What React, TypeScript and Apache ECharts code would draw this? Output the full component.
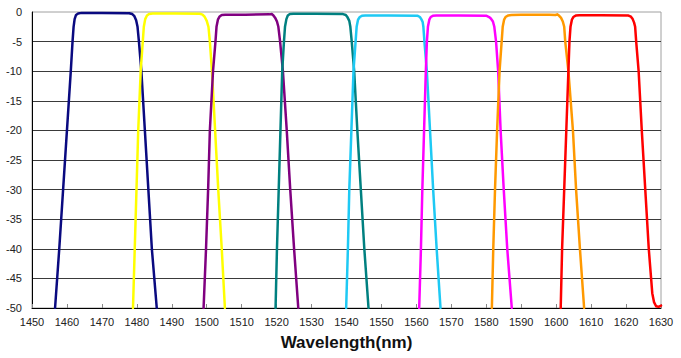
import React, { useEffect, useRef } from "react";
import * as echarts from "echarts";

// Wavelength ticks (nm) and attenuation ticks (dB)
const xTicks = { min: 1450, max: 1630, step: 10 };
const yTicks = { min: -50, max: 0, step: 5 };

const channelNames = ["1471", "1491", "1511", "1531", "1551", "1571", "1591", "1611"];
const channelColors = ["#0a0a80", "#ffff00", "#800080", "#008080", "#1ec9f4", "#ff00ff", "#ff9900", "#ff0000"];

// [wavelength nm, dB]
const ch1471: [number, number][] = [
  [1456.6, -50], [1457.8, -40], [1458.9, -30], [1460.0, -20], [1461.1, -10], [1461.6, -5],
  [1461.9, -2.5], [1462.2, -1.2], [1462.6, -0.5], [1463.2, -0.25], [1464.2, -0.15], [1470.0, -0.15],
  [1477.8, -0.2], [1478.7, -0.35], [1479.3, -0.7], [1479.8, -1.4], [1480.2, -2.5], [1480.6, -5],
  [1481.3, -10], [1482.3, -20], [1483.3, -30], [1484.3, -40], [1485.7, -50],
];
const ch1491: [number, number][] = [
  [1478.9, -50], [1479.4, -40], [1479.9, -30], [1480.4, -20], [1481.1, -10], [1481.7, -5],
  [1482.0, -2.5], [1482.4, -1.2], [1482.9, -0.6], [1483.5, -0.35], [1484.5, -0.25], [1491.0, -0.25],
  [1498.0, -0.3], [1498.8, -0.45], [1499.4, -0.8], [1500.0, -1.5], [1500.5, -2.5], [1500.9, -5],
  [1501.5, -10], [1502.4, -20], [1503.3, -30], [1504.3, -40], [1505.2, -50],
];
const ch1511: [number, number][] = [
  [1499.1, -50], [1499.8, -40], [1500.4, -30], [1500.9, -20], [1501.8, -10], [1502.5, -5],
  [1502.8, -2.5], [1503.2, -1.3], [1503.7, -0.75], [1504.3, -0.5], [1505.3, -0.45], [1511.0, -0.45],
  [1518.0, -0.4], [1518.6, -0.35], [1519.1, -0.6], [1519.6, -1.0], [1520.1, -1.6], [1520.5, -2.5],
  [1521.0, -5], [1521.8, -10], [1522.9, -20], [1523.9, -30], [1525.0, -40], [1526.2, -50],
];
const ch1531: [number, number][] = [
  [1519.7, -50], [1520.1, -40], [1520.6, -30], [1521.1, -20], [1521.6, -10], [1522.1, -5],
  [1522.4, -2.5], [1522.8, -1.2], [1523.2, -0.6], [1523.8, -0.35], [1524.8, -0.3], [1531.0, -0.3],
  [1539.0, -0.35], [1539.8, -0.5], [1540.3, -0.9], [1540.8, -1.5], [1541.1, -2.5], [1541.5, -5],
  [1542.2, -10], [1543.1, -20], [1544.1, -30], [1545.1, -40], [1546.3, -50],
];
const ch1551: [number, number][] = [
  [1539.9, -50], [1540.4, -40], [1540.8, -30], [1541.4, -20], [1542.0, -10], [1542.6, -5],
  [1542.9, -2.5], [1543.3, -1.3], [1543.8, -0.85], [1544.4, -0.65], [1545.4, -0.6], [1552.0, -0.6],
  [1560.4, -0.65], [1561.0, -0.85], [1561.4, -1.2], [1561.8, -1.7], [1562.0, -2.5], [1562.3, -5],
  [1563.0, -10], [1563.9, -20], [1564.8, -30], [1565.8, -40], [1566.9, -50],
];
const ch1571: [number, number][] = [
  [1560.8, -50], [1561.3, -40], [1561.7, -30], [1562.2, -20], [1562.7, -10], [1563.0, -5],
  [1563.3, -2.5], [1563.7, -1.3], [1564.1, -0.85], [1564.7, -0.65], [1565.7, -0.6], [1572.0, -0.6],
  [1580.1, -0.65], [1580.8, -0.85], [1581.3, -1.1], [1581.9, -1.6], [1582.3, -2.5], [1582.8, -5],
  [1583.4, -10], [1584.1, -20], [1585.0, -30], [1586.0, -40], [1587.3, -50],
];
const ch1591: [number, number][] = [
  [1581.6, -50], [1582.0, -40], [1582.5, -30], [1583.1, -20], [1583.8, -10], [1584.4, -5],
  [1584.7, -2.5], [1585.1, -1.3], [1585.6, -0.8], [1586.2, -0.6], [1587.2, -0.5], [1590.0, -0.45],
  [1598.0, -0.45], [1599.8, -0.5], [1600.3, -0.4], [1600.8, -0.6], [1601.4, -1.0], [1601.9, -1.6],
  [1602.3, -2.5], [1602.6, -5], [1603.5, -10], [1604.8, -20], [1605.7, -30], [1606.8, -40], [1608.0, -50],
];
const ch1611: [number, number][] = [
  [1601.3, -50], [1601.7, -40], [1602.3, -30], [1602.9, -20], [1603.5, -10], [1603.8, -5],
  [1604.1, -2.5], [1604.5, -1.3], [1605.0, -0.8], [1605.6, -0.6], [1606.6, -0.55], [1613.0, -0.55],
  [1620.7, -0.6], [1621.4, -0.8], [1621.9, -1.2], [1622.3, -1.8], [1622.6, -2.5], [1622.9, -5],
  [1623.6, -10], [1624.5, -20], [1625.5, -30], [1626.5, -40], [1627.5, -47.5], [1628.0, -49.0],
  [1628.6, -49.7], [1629.3, -49.8], [1630.0, -49.6],
];

const channelData = [ch1471, ch1491, ch1511, ch1531, ch1551, ch1571, ch1591, ch1611];

const FONT = "'Liberation Sans', Arial, sans-serif";

export default function App() {
  const ref = useRef<HTMLDivElement>(null);
  useEffect(() => {
    if (!ref.current) return;
    const chart = echarts.init(ref.current, null, { renderer: "svg" });
    chart.setOption({
      animation: false,
      backgroundColor: "#ffffff",
      grid: {
        left: 32, right: 20, top: 12, bottom: 50,
        show: true, borderColor: "#a0a0a0", borderWidth: 1, backgroundColor: "transparent",
      },
      xAxis: {
        type: "value",
        min: xTicks.min, max: xTicks.max, interval: xTicks.step,
        name: "Wavelength(nm)",
        nameLocation: "middle",
        nameGap: 26,
        nameTextStyle: { fontFamily: FONT, fontWeight: "bold", fontSize: 17, color: "#111" },
        axisLine: { show: true, onZero: false, lineStyle: { color: "#000", width: 1 } },
        axisTick: { show: true, inside: true, length: 4, lineStyle: { color: "#888" } },
        axisLabel: { fontFamily: FONT, fontSize: 11, color: "#222", margin: 8, formatter: (v: number) => String(v) },
        splitLine: { show: false },
      },
      yAxis: {
        type: "value",
        min: yTicks.min, max: yTicks.max, interval: yTicks.step,
        axisLine: { show: true, onZero: false, lineStyle: { color: "#000", width: 1 } },
        axisTick: { show: false },
        axisLabel: { fontFamily: FONT, fontSize: 11, color: "#222", margin: 10, formatter: (v: number) => String(v) },
        splitLine: { show: true, showMinLine: false, showMaxLine: false, lineStyle: { color: "#3a3a3a", width: 1 } },
      },
      series: channelData.map((d, i) => ({
        name: channelNames[i],
        type: "line",
        data: d,
        showSymbol: false,
        smooth: false,
        clip: true,
        lineStyle: { color: channelColors[i], width: 2.5, join: "round", cap: "round" },
        itemStyle: { color: channelColors[i] },
      })),
    });
    return () => chart.dispose();
  }, []);
  return <div ref={ref} style={{ width: 681, height: 358, position: "absolute", left: 0, top: 0 }} />;
}
